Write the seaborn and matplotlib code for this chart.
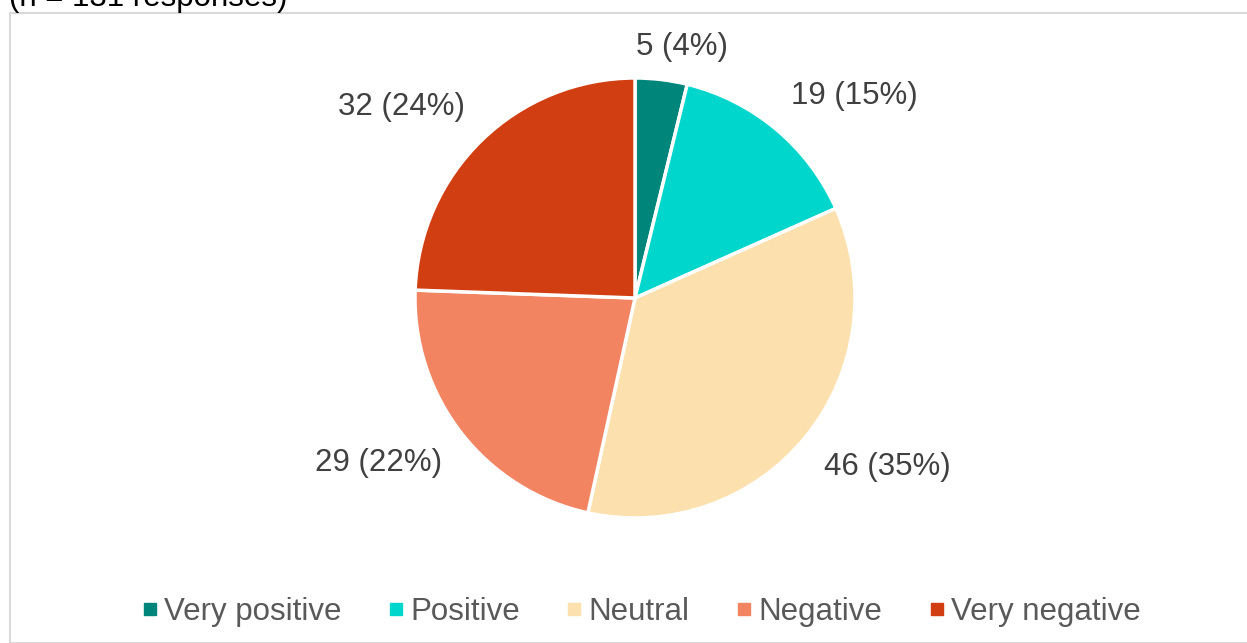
import numpy as np
import matplotlib
matplotlib.use("Agg")
import matplotlib.pyplot as plt
import seaborn as sns
from matplotlib.lines import Line2D
from matplotlib.patches import Rectangle

categories = ["Very positive", "Positive", "Neutral", "Negative", "Very negative"]
counts = [5, 19, 46, 29, 32]
percents = [4, 15, 35, 22, 24]
colors_hex = ["#00857A", "#00D6CC", "#FCE1AE", "#F28462", "#D03E12"]
subtitle = "(n = 131 responses)"

sns.set_theme(style="white")
plt.rcParams["font.family"] = ["Liberation Sans", "DejaVu Sans"]
palette = sns.color_palette(colors_hex)

W, H = 1247, 643
FS = 22.5
fig = plt.figure(figsize=(W / 100, H / 100), dpi=100)

# border box
fig.patches.append(Rectangle((10 / W, 0), 1.2, 1 - 13 / H, transform=fig.transFigure,
                             fill=False, edgecolor="#D9D9D9", lw=1.5, zorder=0))
fig.text(9 / W, 1 - 6 / H, subtitle, fontsize=FS, color="#000000", va="baseline", ha="left")

cx, cy, r = 635, 298, 220
ax = fig.add_axes([(cx - r) / W, (H - cy - r) / H, 2 * r / W, 2 * r / H])

wedges, _ = ax.pie(counts, colors=palette, startangle=90, counterclock=False, radius=1,
                   wedgeprops=dict(edgecolor="white", linewidth=2.5))
ax.set_xlim(-1, 1)
ax.set_ylim(-1, 1)
ax.set_axis_off()

for i, w in enumerate(wedges):
    theta = np.deg2rad((w.theta1 + w.theta2) / 2)
    d = 1.08 if i == 0 else 1.11
    x, y = d * np.cos(theta), d * np.sin(theta)
    ha = "left" if np.cos(theta) >= 0 else "right"
    va = "bottom" if np.sin(theta) >= 0 else "top"
    if i == 0:
        x = 0.005
    ax.text(x, y, f"{counts[i]} ({percents[i]}%)", ha=ha, va=va, fontsize=FS,
            color="#404040", clip_on=False)

handles = [Line2D([0], [0], marker="s", linestyle="none", markersize=8,
                  markerfacecolor=c, markeredgecolor=c) for c in palette]
leg = fig.legend(handles, categories, loc="center", bbox_to_anchor=(642 / W, 1 - 612 / H),
                 ncol=5, frameon=False, fontsize=FS, handlelength=0.4, handletextpad=0.25,
                 columnspacing=1.55, borderpad=0, borderaxespad=0)
for t in leg.get_texts():
    t.set_color("#595959")

fig.savefig("out.png", dpi=100)
